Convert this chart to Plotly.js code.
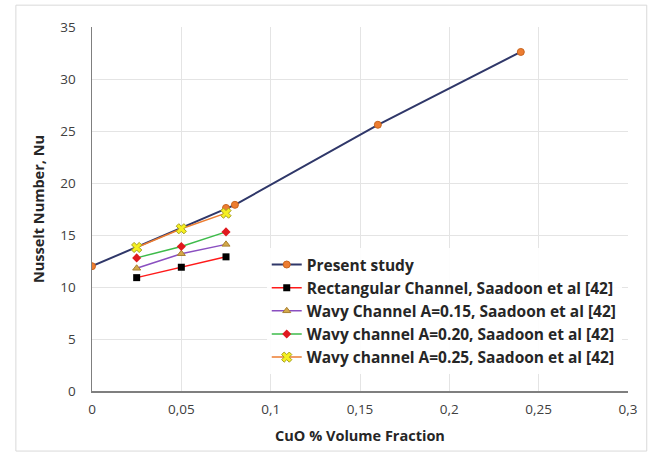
<!DOCTYPE html>
<html><head><meta charset="utf-8">
<script src="https://cdn.plot.ly/plotly-3.0.1.min.js"></script>
<style>html,body{margin:0;padding:0;background:#fff}#chart{width:659px;height:455px}</style>
</head><body><div id="chart"></div>
<script>
const presentX = [0, 0.075, 0.08, 0.16, 0.24];
const presentY = [12, 17.6, 17.9, 25.6, 32.6];
const saadoonX = [0.025, 0.05, 0.075];
const rectY = [10.9, 11.9, 12.9];
const wavy15Y = [11.8, 13.2, 14.1];
const wavy20Y = [12.8, 13.9, 15.3];
const wavy25Y = [13.8, 15.6, 17.1];
const names = [
  "Present study",
  "Rectangular Channel, Saadoon et al [42]",
  "Wavy Channel A=0.15, Saadoon et al [42]",
  "Wavy channel A=0.20, Saadoon et al [42]",
  "Wavy channel A=0.25, Saadoon et al [42]"
];
const xTicks = [0, 0.05, 0.1, 0.15, 0.2, 0.25, 0.3];
const xTickText = ["0", "0,05", "0,1", "0,15", "0,2", "0,25", "0,3"];
const yTicks = [0, 5, 10, 15, 20, 25, 30, 35];

const traces = [
  {x: presentX, y: presentY, name: names[0], mode: "lines+markers",
   line: {color: "#2f3769", width: 2}, marker: {color: "#ed7d31", size: 7, symbol: "circle", line:{color:"#c8651f", width:1}}},
  {x: saadoonX, y: rectY, name: names[1], mode: "lines+markers",
   line: {color: "#ff1a1a", width: 1.5}, marker: {color: "#000000", size: 7, symbol: "square"}},
  {x: saadoonX, y: wavy15Y, name: names[2], mode: "lines+markers",
   line: {color: "#8a4fc0", width: 1.5}, marker: {color: "#d4a84a", size: 7, symbol: "triangle-up", line:{color:"#a88030", width:1}}},
  {x: saadoonX, y: wavy20Y, name: names[3], mode: "lines+markers",
   line: {color: "#3dbb4a", width: 1.5}, marker: {color: "#e0191f", size: 7, symbol: "diamond"}},
  {x: saadoonX, y: wavy25Y, name: names[4], mode: "lines+markers",
   line: {color: "#ed7d31", width: 1.5}, marker: {color: "#f5f020", size: 9, symbol: "x", line:{color:"#a8a020", width:1}}}
];

const layout = {
  width: 659, height: 455,
  margin: {l: 92, r: 31, t: 27, b: 64},
  paper_bgcolor: "#ffffff", plot_bgcolor: "#ffffff",
  font: {family: "Open Sans, Liberation Sans, sans-serif", color: "#404040", size: 13},
  showlegend: true,
  legend: {x: 0.326, y: 0.393, xanchor: "left", yanchor: "top", bgcolor: "rgba(255,255,255,0.9)",
           font: {size: 15.5, color: "#262626", family: "Open Sans, sans-serif", weight: "bold"},
           tracegroupgap: 0, itemwidth: 30},
  xaxis: {range: [0, 0.3], tickvals: xTicks, ticktext: xTickText, showgrid: true, gridcolor: "#e4e4e4",
          zeroline: false, showline: true, linecolor: "#7f7f7f", linewidth: 1.5, ticks: "",
          tickfont: {size: 13.5, color: "#404040"}, ticklabelstandoff: 5,
          title: {text: "CuO % Volume Fraction", font: {size: 14.5, color: "#262626", weight: "bold"}, standoff: 14}},
  yaxis: {range: [0, 35], tickvals: yTicks, showgrid: true, gridcolor: "#e4e4e4",
          zeroline: false, showline: true, linecolor: "#7f7f7f", linewidth: 1.5, ticks: "",
          tickfont: {size: 13.5, color: "#404040"}, ticklabelstandoff: 12,
          title: {text: "Nusselt Number, Nu", font: {size: 14.5, color: "#262626", weight: "bold"}, standoff: 12}},
  shapes: [{type: "rect", xref: "paper", yref: "paper", x0: -0.142, x1: 1.035, y0: -0.165, y1: 1.06,
            line: {color: "#d9d9d9", width: 1}}]
};
Plotly.newPlot("chart", traces, layout, {displayModeBar: false, staticPlot: true});
</script></body></html>
